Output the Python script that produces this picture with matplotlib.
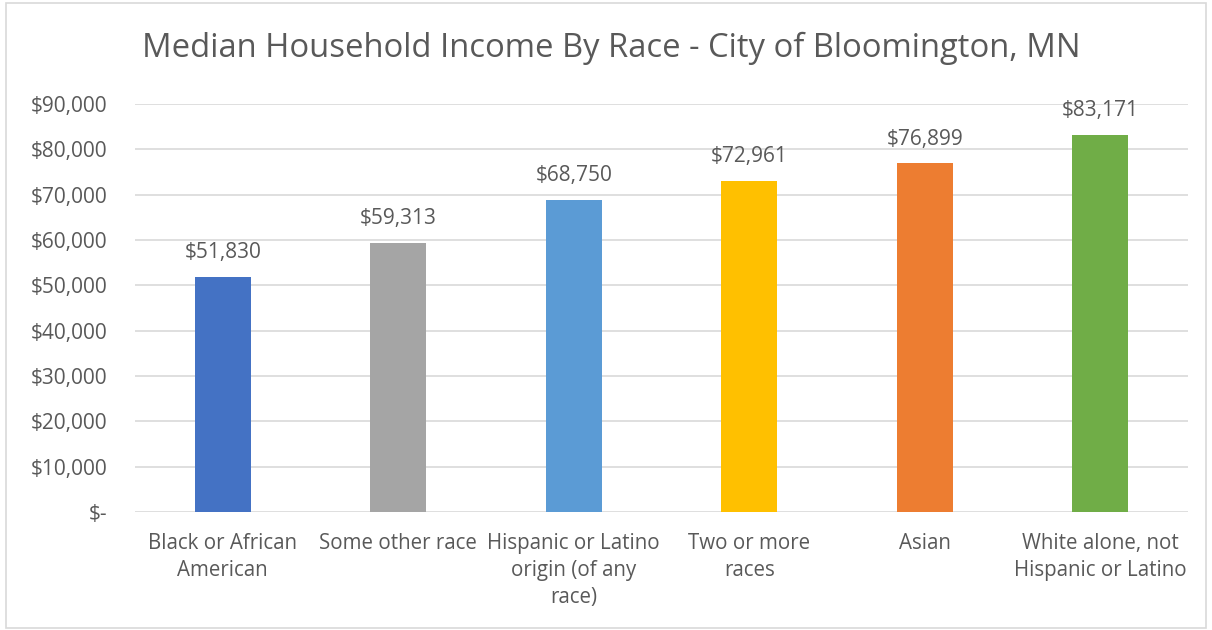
import matplotlib
matplotlib.use("Agg")
import matplotlib.pyplot as plt
from matplotlib.patches import Rectangle

categories = ["Black or African\nAmerican", "Some other race", "Hispanic or Latino\norigin (of any\nrace)",
              "Two or more\nraces", "Asian", "White alone, not\nHispanic or Latino"]
values = [51830, 59313, 68750, 72961, 76899, 83171]
colors = ["#4472C4", "#A5A5A5", "#5B9BD5", "#FFC000", "#ED7D31", "#70AD47"]
yticks = [0, 10000, 20000, 30000, 40000, 50000, 60000, 70000, 80000, 90000]
title = "Median Household Income By Race - City of Bloomington, MN"

plt.rcParams['font.family'] = ['Open Sans', 'DejaVu Sans']
txt = "#595959"

fig = plt.figure(figsize=(12.12, 6.30), dpi=100)
ax = fig.add_axes([135/1212, 1-512/630, (1188-135)/1212, (512-104)/630])

x = list(range(len(categories)))
bars = ax.bar(x, values, width=0.32, color=colors, zorder=3)
ax.set_xlim(-0.5, len(categories)-0.5)
ax.set_ylim(0, 90000)
ax.set_yticks(yticks)
ax.set_yticklabels(["$-" if v == 0 else f"${v:,}" for v in yticks], fontsize=15, color=txt)
ax.set_xticks(x)
ax.set_xticklabels(categories, fontsize=14.8, color=txt, linespacing=1.38, va="top")
ax.tick_params(axis="both", length=0)
ax.tick_params(axis="y", pad=20)
ax.tick_params(axis="x", pad=15)
ax.grid(axis="y", color="#d9d9d9", linewidth=1.2, zorder=0)
for s in ax.spines.values():
    s.set_visible(False)

for b, v in zip(bars, values):
    ax.annotate(f"${v:,}", (b.get_x() + b.get_width()/2, v), xytext=(0, 10),
                textcoords="offset points", ha="center", va="bottom", fontsize=15, color=txt)

fig.text(611/1212, 1-48/630, title, ha="center", va="center", fontsize=23.6, color=txt)

fig.patches.append(Rectangle((6/1212, 2/630), (1206-6)/1212, (627-2)/630, transform=fig.transFigure,
                             fill=False, edgecolor="#d9d9d9", linewidth=1.2))

fig.savefig("out.png", dpi=100, facecolor="white")
